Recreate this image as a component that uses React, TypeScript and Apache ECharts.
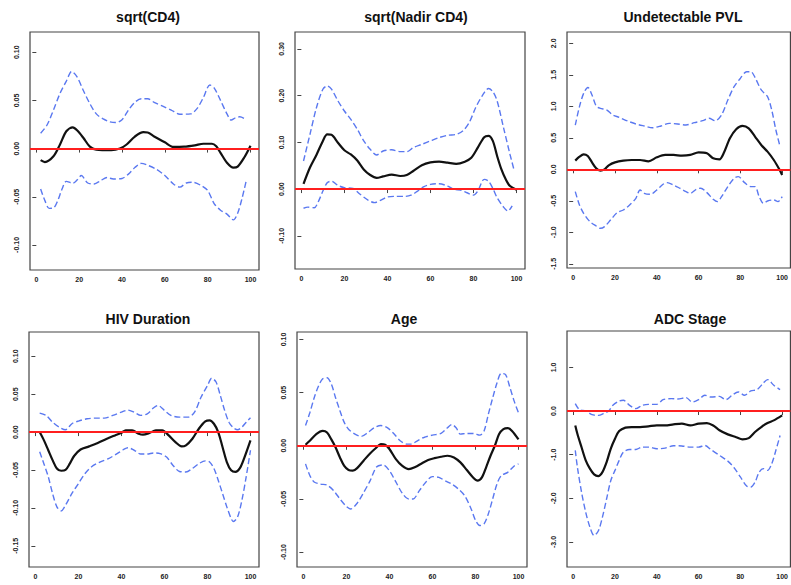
import React, { useEffect, useRef } from "react";
import * as echarts from "echarts";

// ---------- Panel titles ----------
const titles = ["sqrt(CD4)", "sqrt(Nadir CD4)", "Undetectable PVL", "HIV Duration", "Age", "ADC Stage"];

// ---------- X ticks (shared) ----------
const xTicks = [0, 20, 40, 60, 80, 100];

// ---------- Y ticks per panel ----------
const yTicks1 = [-0.1, -0.05, 0, 0.05, 0.1];
const yTicks2 = [-0.1, 0, 0.1, 0.2, 0.3];
const yTicks3 = [-1.5, -1.0, -0.5, 0, 0.5, 1.0, 1.5, 2.0];
const yTicks4 = [-0.15, -0.1, -0.05, 0, 0.05, 0.1];
const yTicks5 = [-0.1, -0.05, 0, 0.05, 0.1];
const yTicks6 = [-3, -2, -1, 0, 1];

// ---------- Panel 1: sqrt(CD4) ----------
const cd4FitX = [2, 4, 8, 11, 14, 17, 19, 22, 25, 28, 35, 39, 42, 46, 50, 52, 55, 60, 64, 69, 74, 78, 82, 84, 86, 89, 92, 94, 97, 100];
const cd4FitY = [-0.012, -0.014, -0.008, 0.004, 0.018, 0.022, 0.019, 0.011, 0.002, -0.001, -0.0017, 0, 0.004, 0.0125, 0.017, 0.0167, 0.0126, 0.0065, 0.0017, 0.002, 0.0034, 0.005, 0.005, 0.0024, -0.0044, -0.0146, -0.0197, -0.0187, -0.0095, 0.003];
const cd4UpX = [2, 5, 8, 11, 14, 16.5, 19, 22, 25, 28, 31, 34, 37, 40, 43, 46, 49, 52, 55, 59, 63, 67, 72, 75, 78, 81, 83, 86, 89, 91, 93, 95, 98];
const cd4UpY = [0.016, 0.0245, 0.04, 0.057, 0.07, 0.08, 0.0745, 0.06, 0.0466, 0.036, 0.031, 0.028, 0.027, 0.03, 0.04, 0.048, 0.0517, 0.0517, 0.048, 0.044, 0.04, 0.0357, 0.036, 0.0415, 0.053, 0.066, 0.063, 0.05, 0.036, 0.0296, 0.032, 0.033, 0.03];
const cd4LoX = [2, 4, 6, 8, 10, 12, 14, 17, 19, 21, 24, 27, 30, 33, 36, 40, 43, 46, 49, 52, 56, 60, 64, 67, 70, 73, 77, 80, 83, 86, 89, 92, 94, 96, 98];
const cd4LoY = [-0.042, -0.054, -0.062, -0.0616, -0.054, -0.042, -0.034, -0.036, -0.0327, -0.028, -0.0357, -0.0367, -0.0333, -0.03, -0.0316, -0.031, -0.0265, -0.0197, -0.0153, -0.0173, -0.0214, -0.028, -0.0367, -0.04, -0.0357, -0.035, -0.0384, -0.0435, -0.057, -0.064, -0.068, -0.074, -0.067, -0.052, -0.0333];

// ---------- Panel 2: sqrt(Nadir CD4) ----------
const nadFitX = [1, 4, 7, 10, 12, 14, 17, 20, 23, 26, 29, 32, 35, 38, 42, 46, 49, 52, 56, 60, 64, 68, 72, 76, 79, 82, 85, 87, 89, 91, 93, 95, 97, 100];
const nadFitY = [0.011, 0.046, 0.073, 0.103, 0.117, 0.116, 0.099, 0.083, 0.074, 0.061, 0.042, 0.03, 0.024, 0.027, 0.031, 0.028, 0.03, 0.0386, 0.051, 0.057, 0.0586, 0.0564, 0.054, 0.0586, 0.067, 0.0886, 0.111, 0.1136, 0.103, 0.0707, 0.042, 0.021, 0.0064, -0.0014];
const nadUpX = [1, 4, 7, 10, 12, 14, 17, 20, 23, 26, 29, 32, 35, 38, 42, 46, 49, 52, 56, 60, 64, 68, 72, 75, 78, 81, 84, 87, 89, 91, 94, 97, 99];
const nadUpY = [0.06, 0.117, 0.174, 0.2136, 0.2207, 0.2136, 0.1886, 0.167, 0.149, 0.128, 0.103, 0.085, 0.073, 0.0814, 0.084, 0.08, 0.08, 0.0886, 0.0957, 0.103, 0.11, 0.115, 0.117, 0.124, 0.142, 0.174, 0.199, 0.215, 0.2086, 0.1886, 0.131, 0.074, 0.0386];
const nadLoX = [1, 3, 6, 8, 10, 12, 14, 17, 20, 24, 27, 31, 34, 37, 40, 44, 48, 51, 54, 57, 60, 64, 68, 71, 74, 77, 80, 82, 85, 87, 89, 91, 94, 96, 98];
const nadLoY = [-0.041, -0.0386, -0.04, -0.0257, -0.0043, 0.0136, 0.017, 0.0079, 0.003, 0.0014, -0.01, -0.0236, -0.029, -0.0236, -0.017, -0.0157, -0.0157, -0.0129, -0.0043, 0.005, 0.01, 0.0114, 0.0064, -0.0007, -0.002, -0.0079, -0.0129, -0.0043, 0.0207, 0.017, 0.0014, -0.0186, -0.0386, -0.047, -0.036];

// ---------- Panel 3: Undetectable PVL ----------
const pvlFitX = [1, 3, 5, 7, 9, 11, 13, 15, 17, 20, 24, 28, 32, 36, 40, 44, 48, 52, 56, 60, 64, 67, 70, 72, 75, 78, 81, 84, 87, 90, 93, 96, 99, 100];
const pvlFitY = [0.138, 0.2, 0.238, 0.21, 0.11, 0.016, -0.021, 0, 0.063, 0.11, 0.138, 0.148, 0.148, 0.127, 0.19, 0.228, 0.228, 0.217, 0.228, 0.27, 0.254, 0.175, 0.159, 0.254, 0.492, 0.635, 0.688, 0.65, 0.519, 0.386, 0.28, 0.148, -0.021, -0.09];
const pvlUpX = [1, 3, 5, 7, 9, 11, 13, 16, 19, 22, 26, 30, 34, 38, 42, 46, 50, 54, 58, 62, 65, 68, 71, 74, 77, 80, 83, 85, 87, 90, 93, 95, 97, 99];
const pvlUpY = [0.7, 0.995, 1.206, 1.3, 1.18, 1.005, 0.968, 0.942, 0.862, 0.825, 0.767, 0.72, 0.688, 0.66, 0.688, 0.73, 0.72, 0.704, 0.74, 0.772, 0.81, 0.772, 0.862, 1.1, 1.312, 1.444, 1.55, 1.55, 1.46, 1.26, 1.153, 0.942, 0.624, 0.36];
const pvlLoX = [1, 3, 5, 8, 11, 13, 15, 18, 21, 24, 27, 30, 32, 34, 37, 40, 43, 45, 48, 51, 54, 56, 59, 61, 64, 67, 69, 71, 74, 77, 79, 82, 85, 87, 89, 91, 93, 96, 98, 100];
const pvlLoY = [-0.354, -0.566, -0.698, -0.83, -0.9, -0.937, -0.91, -0.8, -0.688, -0.646, -0.566, -0.46, -0.328, -0.381, -0.397, -0.328, -0.238, -0.212, -0.249, -0.3, -0.354, -0.381, -0.317, -0.3, -0.37, -0.476, -0.513, -0.434, -0.275, -0.143, -0.116, -0.212, -0.275, -0.275, -0.434, -0.54, -0.503, -0.487, -0.513, -0.434];

// ---------- Panel 4: HIV Duration ----------
const durFitX = [2, 4, 6, 8, 10, 12, 14, 16, 18, 21, 25, 29, 33, 37, 40, 42, 45, 48, 50, 53, 56, 59, 62, 65, 68, 70, 73, 76, 79, 81, 83, 85, 87, 89, 91, 93, 95, 97, 100];
const durFitY = [0, -0.011, -0.024, -0.037, -0.048, -0.051, -0.05, -0.0417, -0.0316, -0.023, -0.0189, -0.0145, -0.0092, -0.0044, -0.0009, 0.0022, 0.0022, -0.0022, -0.0035, -0.0013, 0.0022, 0.0022, -0.0044, -0.013, -0.0189, -0.0175, -0.0088, 0.0044, 0.014, 0.0154, 0.011, 0, -0.0197, -0.0395, -0.0504, -0.0526, -0.048, -0.035, -0.011];
const durUpX = [2, 5, 8, 11, 14, 17, 20, 24, 28, 32, 36, 40, 43, 46, 49, 52, 55, 57, 60, 63, 67, 71, 74, 77, 80, 82, 84, 86, 88, 90, 92, 94, 96, 98, 100];
const durUpY = [0.025, 0.022, 0.013, 0.0066, 0.003, 0.011, 0.0145, 0.0175, 0.0184, 0.0184, 0.022, 0.0263, 0.029, 0.026, 0.022, 0.024, 0.032, 0.035, 0.0285, 0.022, 0.0197, 0.0197, 0.0263, 0.046, 0.0614, 0.071, 0.066, 0.048, 0.0285, 0.013, 0.0057, 0.003, 0.0066, 0.013, 0.019];
const durLoX = [2, 4, 6, 8, 10, 12, 14, 17, 20, 23, 26, 30, 34, 38, 41, 43, 46, 49, 52, 55, 58, 61, 64, 67, 70, 73, 76, 79, 81, 83, 85, 87, 89, 91, 92, 94, 96, 98, 100];
const durLoY = [-0.026, -0.042, -0.059, -0.081, -0.0987, -0.104, -0.0965, -0.081, -0.068, -0.055, -0.046, -0.0395, -0.035, -0.0285, -0.023, -0.0206, -0.024, -0.029, -0.029, -0.0276, -0.0285, -0.033, -0.044, -0.052, -0.0526, -0.048, -0.0417, -0.038, -0.0395, -0.048, -0.0636, -0.081, -0.0987, -0.114, -0.118, -0.112, -0.09, -0.059, -0.024];

// ---------- Panel 5: Age ----------
const ageFitX = [1, 3, 6, 9, 11, 13, 15, 17, 19, 21, 23, 25, 28, 31, 34, 36, 38, 40, 43, 46, 49, 52, 55, 58, 61, 64, 67, 70, 73, 76, 79, 81, 83, 85, 87, 89, 91, 93, 95, 97, 100];
const ageFitY = [0.001, 0.0047, 0.011, 0.014, 0.0125, 0.006, -0.0016, -0.011, -0.019, -0.0228, -0.0234, -0.021, -0.014, -0.0072, -0.0016, 0.0016, 0.001, -0.003, -0.0125, -0.019, -0.022, -0.02, -0.0166, -0.0134, -0.0116, -0.0103, -0.0094, -0.011, -0.0156, -0.0228, -0.03, -0.0328, -0.0297, -0.02, -0.0094, 0, 0.011, 0.0156, 0.0166, 0.014, 0.006];
const ageUpX = [1, 3, 5, 7, 9, 11, 13, 15, 17, 19, 21, 24, 27, 30, 33, 36, 39, 42, 45, 48, 50, 53, 56, 60, 64, 67, 69, 71, 73, 76, 79, 82, 84, 86, 88, 90, 92, 94, 96, 98, 100];
const ageUpY = [0.019, 0.031, 0.045, 0.056, 0.063, 0.064, 0.058, 0.045, 0.033, 0.022, 0.0156, 0.011, 0.0088, 0.0125, 0.017, 0.019, 0.017, 0.0116, 0.0047, 0.0016, 0.0016, 0.0047, 0.0078, 0.01, 0.0116, 0.017, 0.02, 0.017, 0.011, 0.0116, 0.0116, 0.01, 0.014, 0.0297, 0.045, 0.059, 0.068, 0.067, 0.055, 0.042, 0.031];
const ageLoX = [1, 3, 5, 8, 11, 14, 17, 20, 22, 25, 28, 31, 34, 37, 40, 43, 46, 49, 51, 54, 57, 60, 63, 66, 69, 72, 75, 78, 80, 82, 84, 86, 88, 90, 92, 95, 98, 100];
const ageLoY = [-0.017, -0.028, -0.034, -0.036, -0.037, -0.042, -0.05, -0.057, -0.0594, -0.054, -0.044, -0.033, -0.02, -0.018, -0.0234, -0.034, -0.0447, -0.05, -0.05, -0.042, -0.034, -0.029, -0.0297, -0.033, -0.036, -0.0406, -0.047, -0.0594, -0.07, -0.075, -0.0734, -0.064, -0.05, -0.036, -0.028, -0.025, -0.019, -0.017];

// ---------- Panel 6: ADC Stage ----------
const adcFitX = [1, 2, 4, 6, 8, 10, 12, 14, 16, 18, 20, 22, 25, 28, 32, 36, 40, 44, 48, 52, 56, 60, 64, 67, 70, 74, 78, 81, 84, 87, 90, 93, 96, 100];
const adcFitY = [-0.33, -0.52, -0.83, -1.13, -1.32, -1.45, -1.49, -1.4, -1.17, -0.86, -0.635, -0.46, -0.38, -0.367, -0.367, -0.35, -0.33, -0.33, -0.306, -0.29, -0.33, -0.29, -0.275, -0.33, -0.44, -0.535, -0.6, -0.65, -0.62, -0.48, -0.367, -0.275, -0.214, -0.1];
const adcUpX = [1, 3, 6, 9, 12, 15, 17, 19, 22, 24, 27, 30, 33, 36, 40, 43, 47, 50, 54, 57, 60, 63, 66, 70, 73, 76, 79, 82, 85, 88, 91, 93, 96, 99];
const adcUpY = [0.17, 0.03, 0, -0.084, -0.1, -0.046, 0, 0.13, 0.23, 0.245, 0.13, 0.054, 0.13, 0.153, 0.153, 0.26, 0.283, 0.275, 0.306, 0.206, 0.26, 0.36, 0.32, 0.336, 0.26, 0.36, 0.436, 0.36, 0.46, 0.49, 0.64, 0.72, 0.59, 0.49];
const adcLoX = [1, 2, 4, 6, 8, 10, 12, 14, 16, 18, 20, 22, 24, 27, 30, 33, 36, 40, 44, 48, 52, 56, 60, 63, 66, 70, 74, 77, 80, 83, 85, 87, 89, 91, 93, 95, 97, 99];
const adcLoY = [-0.9, -1.28, -1.86, -2.32, -2.66, -2.85, -2.75, -2.43, -2.01, -1.59, -1.36, -1.13, -0.94, -0.88, -0.88, -0.826, -0.826, -0.864, -0.85, -0.795, -0.8, -0.826, -0.826, -0.79, -0.887, -1.017, -1.147, -1.3, -1.51, -1.72, -1.74, -1.63, -1.4, -1.32, -1.36, -1.21, -0.9, -0.56];

const zip = (xs: number[], ys: number[]) => xs.map((x, i) => [x, ys[i]]);

const panels = [
  { fit: [cd4FitX, cd4FitY], up: [cd4UpX, cd4UpY], lo: [cd4LoX, cd4LoY], yTicks: yTicks1, dec: 2, yMin: -0.126, yMax: 0.121,
    box: { left: 30, top: 32, width: 229, height: 238 }, title: { x: 148, y: 17 } },
  { fit: [nadFitX, nadFitY], up: [nadUpX, nadUpY], lo: [nadLoX, nadLoY], yTicks: yTicks2, dec: 2, yMin: -0.171, yMax: 0.336,
    box: { left: 295, top: 32, width: 230, height: 237 }, title: { x: 416, y: 17 } },
  { fit: [pvlFitX, pvlFitY], up: [pvlUpX, pvlUpY], lo: [pvlLoX, pvlLoY], yTicks: yTicks3, dec: 1, yMin: -1.567, yMax: 2.18,
    box: { left: 567, top: 32, width: 230, height: 236 }, title: { x: 683, y: 17 } },
  { fit: [durFitX, durFitY], up: [durUpX, durUpY], lo: [durLoX, durLoY], yTicks: yTicks4, dec: 2, yMin: -0.178, yMax: 0.132,
    box: { left: 29, top: 332, width: 230, height: 235 }, title: { x: 148, y: 319 } },
  { fit: [ageFitX, ageFitY], up: [ageUpX, ageUpY], lo: [ageLoX, ageLoY], yTicks: yTicks5, dec: 2, yMin: -0.114, yMax: 0.107,
    box: { left: 297, top: 332, width: 230, height: 235 }, title: { x: 404, y: 319 } },
  { fit: [adcFitX, adcFitY], up: [adcUpX, adcUpY], lo: [adcLoX, adcLoY], yTicks: yTicks6, dec: 1, yMin: -3.573, yMax: 1.833,
    box: { left: 567, top: 331, width: 230, height: 236 }, title: { x: 690, y: 319 } },
];

const FONT = "Liberation Sans, Arial, sans-serif";
const BLUE = "#5a78f0";
const RED = "#ff1f1f";

export default function App() {
  const ref = useRef<HTMLDivElement>(null);
  useEffect(() => {
    document.body.style.margin = "0";
    const chart = echarts.init(ref.current!, null, { renderer: "svg" });
    const grid: any[] = [];
    const xAxis: any[] = [];
    const yAxis: any[] = [];
    const series: any[] = [];
    const graphic: any[] = [];
    panels.forEach((p, i) => {
      grid.push({ ...p.box, show: true, borderColor: "#444", borderWidth: 1.2, backgroundColor: "transparent" });
      xAxis.push({
        type: "value", gridIndex: i, min: -2.96, max: 103.96,
        splitLine: { show: false }, axisLine: { show: false },
        axisTick: { show: true, length: 4, customValues: xTicks, lineStyle: { color: "#444" } },
        axisLabel: { customValues: xTicks, margin: 6, fontSize: 7, fontWeight: "bold", color: "#222", fontFamily: FONT },
      });
      yAxis.push({
        type: "value", gridIndex: i, min: p.yMin, max: p.yMax,
        splitLine: { show: false }, axisLine: { show: false },
        axisTick: { show: true, length: 4, customValues: p.yTicks, lineStyle: { color: "#444" } },
        axisLabel: {
          customValues: p.yTicks, rotate: 90, margin: 10, fontSize: 7, fontWeight: "bold", color: "#222", fontFamily: FONT,
          formatter: (v: number) => Number(v).toFixed(p.dec),
        },
      });
      const lineBase = { type: "line", xAxisIndex: i, yAxisIndex: i, showSymbol: false, symbol: "none", smooth: 0.3, silent: true };
      series.push({ ...lineBase, data: zip(p.up[0], p.up[1]), lineStyle: { color: BLUE, width: 1.4, type: [6, 3] }, z: 2 });
      series.push({ ...lineBase, data: zip(p.lo[0], p.lo[1]), lineStyle: { color: BLUE, width: 1.4, type: [6, 3] }, z: 2 });
      series.push({ ...lineBase, data: zip(p.fit[0], p.fit[1]), lineStyle: { color: "#111", width: 2.2 }, z: 3 });
      series.push({
        type: "line", xAxisIndex: i, yAxisIndex: i, data: [], z: 4,
        markLine: { silent: true, symbol: "none", label: { show: false }, lineStyle: { color: RED, width: 1.8, type: "solid" }, data: [{ yAxis: 0 }] },
      });
      graphic.push({
        type: "text", x: p.title.x, y: p.title.y,
        style: { text: titles[i], font: `bold 14px ${FONT}`, fill: "#111", textAlign: "center", textVerticalAlign: "middle" },
      });
    });
    chart.setOption({ animation: false, grid, xAxis, yAxis, series, graphic });
    return () => chart.dispose();
  }, []);
  return <div ref={ref} style={{ width: 791, height: 585, background: "#fff" }} />;
}
